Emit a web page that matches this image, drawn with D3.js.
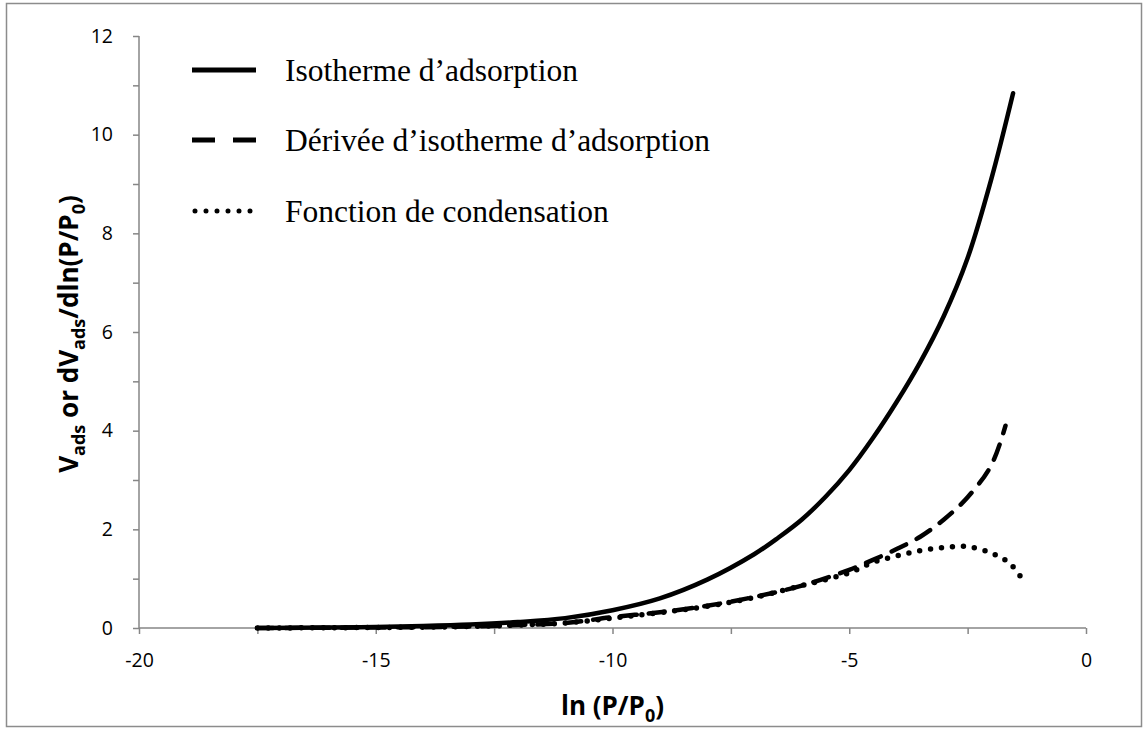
<!DOCTYPE html>
<html>
<head>
<meta charset="utf-8">
<script src="https://cdn.jsdelivr.net/npm/d3@7"></script>
<style>
  body { margin: 0; background: #fff; }
  .tick text { font-family: "Open Sans", sans-serif; font-size: 19.5px; fill: #000; }
  .axis path, .axis line { stroke: #868686; stroke-width: 1.5; }
  .legend text { font-family: "Liberation Serif", "Times New Roman", serif; font-size: 31.5px; }
  .title { font-family: "Open Sans", sans-serif; font-weight: bold; font-size: 26px; }
</style>
</head>
<body>
<div id="chart"></div>
<script>
// values
const isoX = [-17.5, -16, -15, -14, -13, -12, -11, -10, -9, -8, -7, -6.5, -6, -5.5, -5, -4.5, -4, -3.5, -3, -2.5, -2, -1.54];
const isoY = [0.0, 0.01, 0.02, 0.04, 0.07, 0.12, 0.2, 0.36, 0.6, 0.98, 1.5, 1.83, 2.2, 2.66, 3.2, 3.85, 4.58, 5.39, 6.33, 7.5, 9.1, 10.84];

const derX = [-17.5, -15, -13, -12, -11, -10, -9, -8, -7, -6, -5, -4.5, -4, -3.5, -3, -2.5, -2, -1.7];
const derY = [0.0, 0.01, 0.03, 0.06, 0.1, 0.22, 0.32, 0.45, 0.63, 0.86, 1.18, 1.38, 1.6, 1.85, 2.2, 2.65, 3.3, 4.1];

const condX = [-17.5, -15, -13, -12, -11, -10, -9, -8, -7, -6, -5, -4.5, -4, -3.5, -3, -2.5, -2, -1.6, -1.3];
const condY = [0.0, 0.01, 0.03, 0.06, 0.1, 0.2, 0.31, 0.44, 0.62, 0.86, 1.12, 1.33, 1.46, 1.57, 1.63, 1.65, 1.52, 1.3, 0.92];

const legendLabels = ["Isotherme d\u2019adsorption", "D\u00e9riv\u00e9e d\u2019isotherme d\u2019adsorption", "Fonction de condensation"];

const svgWidth = 1148;
const svgHeight = 731;
const margin = { top: 36, right: 62, bottom: 103, left: 139 };
const width = svgWidth - margin.left - margin.right;
const height = svgHeight - margin.top - margin.bottom;

const svg = d3.select("#chart").append("svg")
  .attr("width", svgWidth)
  .attr("height", svgHeight);

// outer frame
svg.append("rect")
  .attr("x", 6.5).attr("y", 3.5)
  .attr("width", 1135).attr("height", 723)
  .attr("fill", "none")
  .attr("stroke", "#8c8c8c")
  .attr("stroke-width", 1.5);

const chartGroup = svg.append("g")
  .attr("transform", `translate(${margin.left}, ${margin.top})`);

const xScale = d3.scaleLinear().domain([-20, 0]).range([0, width]);
const yScale = d3.scaleLinear().domain([0, 12]).range([height, 0]);

// axes, minor ticks unlabelled
const bottomAxis = d3.axisBottom(xScale)
  .tickValues(d3.range(-20, 0.1, 2.5))
  .tickSize(6)
  .tickPadding(19)
  .tickFormat(d => d % 5 === 0 ? d : "");
const leftAxis = d3.axisLeft(yScale)
  .tickValues(d3.range(0, 13, 1))
  .tickSize(6)
  .tickPadding(20)
  .tickFormat(d => d % 2 === 0 ? d : "");

chartGroup.append("g")
  .attr("class", "axis")
  .call(leftAxis)
  .call(g => g.select(".domain").attr("d", `M0,0V${height}`));

chartGroup.append("g")
  .attr("class", "axis")
  .attr("transform", `translate(0, ${height})`)
  .call(bottomAxis)
  .call(g => g.select(".domain").attr("d", `M0,0H${width}`));

// series
const line = d3.line()
  .x(d => xScale(d[0]))
  .y(d => yScale(d[1]))
  .curve(d3.curveCatmullRom.alpha(0.5));

const series = [
  { xs: isoX, ys: isoY, dash: null, w: 4.5 },
  { xs: derX, ys: derY, dash: "16,12", w: 4.5 },
  { xs: condX, ys: condY, dash: "0,11", w: 5.5 }
];

series.forEach(s => {
  chartGroup.append("path")
    .datum(d3.zip(s.xs, s.ys))
    .attr("fill", "none")
    .attr("stroke", "#000")
    .attr("stroke-width", s.w)
    .attr("stroke-linecap", "round")
    .attr("stroke-dasharray", s.dash)
    .attr("d", line);
});

// legend
const legend = svg.append("g").attr("class", "legend");
const legendY = [70, 140, 211];
legendLabels.forEach((label, i) => {
  legend.append("line")
    .attr("x1", i === 2 ? 195 : 192).attr("x2", i === 2 ? 252 : 256)
    .attr("y1", legendY[i]).attr("y2", legendY[i])
    .attr("stroke", "#000")
    .attr("stroke-width", 5)
    .attr("stroke-linecap", i === 2 ? "round" : "butt")
    .attr("stroke-dasharray", i === 1 ? "23,18" : i === 2 ? "0,11" : null);
  legend.append("text")
    .attr("x", 285)
    .attr("y", legendY[i] + 11)
    .text(label);
});

// axis titles
svg.append("text")
  .attr("class", "title")
  .attr("x", margin.left + width / 2)
  .attr("y", 715)
  .attr("text-anchor", "middle")
  .html('ln (P/P<tspan dy="7" font-size="18">0</tspan><tspan dy="-7">)</tspan>');

svg.append("text")
  .attr("class", "title")
  .attr("transform", "translate(78, 334) rotate(-90)")
  .attr("text-anchor", "middle")
  .html('V<tspan dy="7" font-size="18">ads</tspan><tspan dy="-7"> or dV</tspan><tspan dy="7" font-size="18">ads</tspan><tspan dy="-7">/dln(P/P</tspan><tspan dy="7" font-size="18">0</tspan><tspan dy="-7">)</tspan>');
</script>
</body>
</html>
